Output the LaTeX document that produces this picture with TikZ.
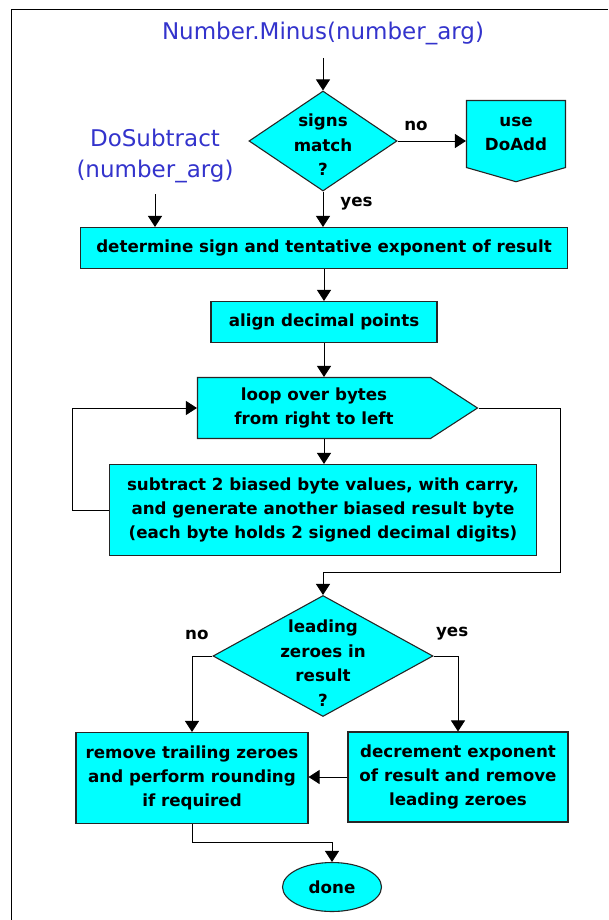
\documentclass[tikz,border=0pt]{standalone}
\usepackage{fontspec}
\setmainfont{DejaVu Sans}
\usetikzlibrary{shapes.geometric}
\usetikzlibrary{shapes.symbols}
\usetikzlibrary{arrows.meta}
\definecolor{boxcyan}{RGB}{0,255,255}
\definecolor{callblue}{RGB}{51,51,204}

\begin{document}
\begin{tikzpicture}[x=1pt, y=-1pt,
        stepbox/.style={draw=black!85, line width=1.1pt, fill=boxcyan, align=center, inner sep=0pt,
            font=\bfseries\fontsize{16.7}{24}\selectfont},
        decision/.style={stepbox, diamond, inner xsep=-4pt, inner ysep=-12pt,
            font=\bfseries\fontsize{16.7}{24.5}\selectfont},
        callname/.style={text=callblue, align=center, font=\fontsize{23}{31}\selectfont},
        branch/.style={font=\bfseries\fontsize{16.7}{20}\selectfont, inner sep=2pt},
        conn/.style={line width=0.9pt, -{Triangle[width=14pt,length=11pt]}}]
    \useasboundingbox (0,0) rectangle (608,920);
    \draw [line width=1pt] (11,920) |- (608,10);

    \node [callname] (minus) at (323,33) {Number.Minus(number\_arg)};
    \node [decision, minimum width=148pt, minimum height=100pt, shape aspect=1.48] (signs) at (323,141) {\rule{0pt}{20pt}signs\\match\\?};
    \node [stepbox, signal, signal to=south, signal pointer angle=148, minimum width=99pt, minimum height=76pt] (doadd) at (516,134) {use\\DoAdd};
    \node [callname] (dosub) at (155,156) {DoSubtract\\(number\_arg)};
    \node [stepbox, minimum width=487pt, minimum height=41pt] (sign) at (324,248) {determine sign and tentative exponent of result};
    \node [stepbox, minimum width=226pt, minimum height=41pt] (points) at (324,322) {align decimal points};
    \node [stepbox, signal, signal to=east, signal pointer angle=66, minimum width=280pt, minimum height=61pt] (loop) at (314,408) {loop over bytes\\from right to left};
    \node [stepbox, minimum width=427pt, minimum height=91pt] (sub) at (323,510) {subtract 2 biased byte values, with carry,\\and generate another biased result byte\\(each byte holds 2 signed decimal digits)};
    \node [decision, minimum width=220pt, minimum height=121pt, shape aspect=1.82] (lead) at (323,656) {\rule{0pt}{27pt}leading\\zeroes in\\result\\?};
    \node [stepbox, minimum width=232pt, minimum height=91pt] (trail) at (192,778) {remove trailing zeroes\\and perform rounding\\if required};
    \node [stepbox, minimum width=220pt, minimum height=90pt] (decr) at (458,777) {decrement exponent\\of result and remove\\leading zeroes};
    \node [stepbox, ellipse, minimum width=99pt, minimum height=49pt] (done) at (332,887) {done};

    \draw [conn, shorten <=10pt] (minus) -- (signs);
    \draw [conn] (signs.east) -- node [branch, above=7.5pt, pos=0.27] {no} (signs.east -| doadd.west);
    \draw [conn] (signs.south) -- node [branch, right=15pt, pos=0.35] {yes} (signs.south |- sign.north);
    \draw [conn, shorten <=8pt] (dosub.south) -- (dosub.south |- sign.north);
    \draw [conn] (sign) -- (points);
    \draw [conn] (points.south) -- (points.south |- loop.north);
    \draw [conn] (points.south |- loop.south) -- (points.south |- sub.north);
    \draw [conn] (sub.west) -- ++(-37,0) |- (loop.west);
    \draw [conn] (loop.east) -- ++(82,0) -- ++(0,164) -| (lead.north);
    \draw [conn] (lead.west) -| node [branch, above=13.5pt, pos=0.38] {no} (trail.north);
    \draw [conn] (lead.east) -| node [branch, above=13.5pt, pos=0.38] {yes} (decr.north);
    \draw [conn] (decr.west) -- (decr.west -| trail.east);
    \draw [conn] (trail.south) -- ++(0,18) -| (done.north);
\end{tikzpicture}
\end{document}
